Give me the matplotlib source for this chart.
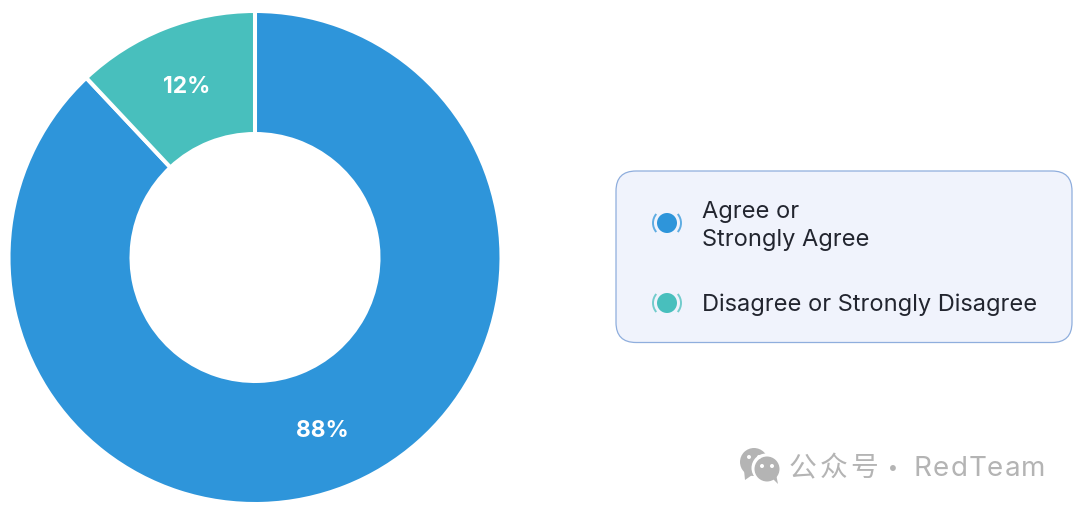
import matplotlib
matplotlib.use("Agg")
import matplotlib.pyplot as plt
from matplotlib.patches import FancyBboxPatch, Circle, Arc, Polygon

categories = ["Agree or\nStrongly Agree", "Disagree or Strongly Disagree"]
values = [88, 12]
labels = ["88%", "12%"]
colors = ["#2E95DA", "#48BFBD"]

W, H = 1080, 510
fig = plt.figure(figsize=(W / 100, H / 100), dpi=100, facecolor="white")
ax = fig.add_axes([0, 0, 1, 1])
ax.set_xlim(0, W)
ax.set_ylim(0, H)
ax.axis("off")
Y = lambda y: H - y

ax.pie(values, colors=colors, startangle=90, counterclock=False, center=(255, Y(258.5)),
       radius=246.5, frame=True,
       wedgeprops=dict(width=123, edgecolor="white", linewidth=2.9))
ax.set_xlim(0, W)
ax.set_ylim(0, H)
ax.set_aspect("auto")
ax.axis("off")

lab_pos = [(322.5, 431), (186.5, 87)]
for s, (x, y) in zip(labels, lab_pos):
    ax.text(x, Y(y), s, color="white", fontsize=16.4, fontweight="bold", family="Inter",
            ha="center", va="center")

ax.add_patch(FancyBboxPatch((616 + 20, Y(343.5) + 20), 456 - 40, 171.5 - 40,
                            boxstyle="round,pad=20,rounding_size=20",
                            fc="#F0F3FC", ec="#8FAEDD", lw=0.9))

ty = [(667, 224), (667, 304)]
tpos = [(702, 226), (702, 304.5)]
for cat, col, (mx, my), (tx, tyy) in zip(categories, colors, ty, tpos):
    ax.add_patch(Circle((mx, Y(my)), 10, fc=col, ec="none", zorder=3))
    ax.add_patch(Arc((mx, Y(my)), 28, 28, theta1=140, theta2=220, ec=col, lw=1.4, alpha=0.75, zorder=3))
    ax.add_patch(Arc((mx, Y(my)), 28, 28, theta1=-40, theta2=40, ec=col, lw=1.4, alpha=0.75, zorder=3))
    ax.text(tx, Y(tyy), cat, color="#22252F", fontsize=17.0, family="Inter",
            ha="left", va="center", linespacing=1.31)

g = "#B4B4B4"
ax.add_patch(Circle((754, Y(463)), 14, fc=g, ec="none"))
ax.add_patch(Polygon([(744, Y(471)), (745, Y(481)), (755, Y(474))], fc=g, ec="none"))
ax.add_patch(Circle((766, Y(469)), 14.5, fc="white", ec="none"))
ax.add_patch(Circle((767, Y(470)), 12.5, fc=g, ec="none"))
ax.add_patch(Polygon([(772, Y(479)), (778, Y(485)), (776, Y(475))], fc=g, ec="none"))
for x, y in [(749, 458), (759, 458), (762, 467), (772, 467)]:
    ax.add_patch(Circle((x, Y(y)), 2, fc="white", ec="none"))

cjk = ["Noto Sans CJK SC", "DejaVu Sans"]
for i, ch in enumerate("公众号"):
    ax.text(789 + 30.5 * i, Y(468), ch, color=g, fontsize=20, family=cjk, ha="left", va="center")
ax.text(893, Y(471), "·", color=g, fontsize=20, family=cjk, ha="center", va="center")

renderer = fig.canvas.get_renderer()
word = "RedTeam"
x = 914
for i, ch in enumerate(word):
    ax.text(x, Y(466), ch, color=g, fontsize=20, family="Inter", ha="left", va="center_baseline")
    prefix = ax.text(0, 0, word[:i + 1], fontsize=20, family="Inter")
    adv = prefix.get_window_extent(renderer).width
    prefix.remove()
    x = 914 + adv + 1.0 * (i + 1)

fig.savefig("out.png", dpi=100, facecolor="white")
